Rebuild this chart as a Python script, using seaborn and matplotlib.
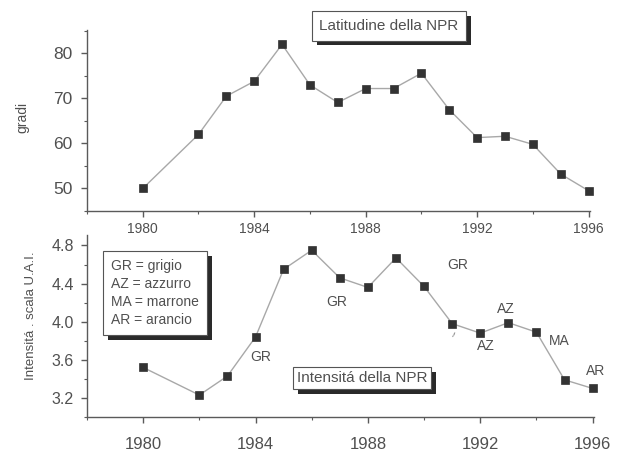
import matplotlib
matplotlib.use("Agg")
import matplotlib.pyplot as plt
import matplotlib.patheffects as pe
from matplotlib.ticker import MultipleLocator, FormatStrFormatter
import seaborn as sns
import pandas as pd

# Yearly observations (1981 missing)
years = [1980, 1982, 1983, 1984, 1985, 1986, 1987, 1988, 1989, 1990,
         1991, 1992, 1993, 1994, 1995, 1996]
latitude = [50.0, 62.0, 70.5, 73.8, 82.0, 73.0, 69.1, 72.2, 72.2, 75.6,
            67.5, 61.3, 61.6, 59.8, 53.2, 49.5]
intensity = [3.52, 3.23, 3.43, 3.84, 4.55, 4.75, 4.46, 4.36, 4.67, 4.37,
             3.98, 3.88, 3.99, 3.89, 3.39, 3.30]

# Colour codes written next to the intensity curve
color_codes = ["GR", "GR", "GR", "AZ", "AZ", "MA", "AR"]
code_x = [1984.2, 1986.9, 1991.2, 1992.2, 1992.9, 1994.8, 1996.1]
code_y = [3.63, 4.21, 4.60, 3.74, 4.13, 3.80, 3.48]
legend_lines = ["GR = grigio", "AZ = azzurro", "MA = marrone", "AR = arancio"]

df_lat = pd.DataFrame({"anno": years, "gradi": latitude})
df_int = pd.DataFrame({"anno": years, "intensita": intensity})

sns.set_style("ticks")
plt.rcParams["font.family"] = ["Liberation Sans", "DejaVu Sans"]

W, H = 628, 451
fig = plt.figure(figsize=(W / 100, H / 100), dpi=100)
fig.patch.set_facecolor("white")

TXT = "#505050"
AXC = "#5a5a5a"
LINE = "#a8a8a8"
MARK = "#333333"


def px_rect(left, top, right, bottom):
    return [left / W, 1 - bottom / H, (right - left) / W, (bottom - top) / H]


def fx(x):
    return x / W


def fy(y):
    return 1 - y / H


ax1 = fig.add_axes(px_rect(87, 30, 590, 211))
ax2 = fig.add_axes(px_rect(87, 235, 594, 417))

for ax, df, col in ((ax1, df_lat, "gradi"), (ax2, df_int, "intensita")):
    sns.lineplot(data=df, x="anno", y=col, ax=ax, color=LINE, lw=1.0,
                 marker="s", markersize=5.2, markerfacecolor=MARK,
                 markeredgecolor=MARK, markeredgewidth=0.5, clip_on=False)
    ax.set_xlabel("")
    ax.set_ylabel("")
    sns.despine(ax=ax)
    for s in ("left", "bottom"):
        ax.spines[s].set_color(AXC)
        ax.spines[s].set_linewidth(1.0)
    ax.set_facecolor("white")
    ax.set_xlim(1978, 1996.05)
    ax.xaxis.set_major_locator(MultipleLocator(4))
    ax.xaxis.set_minor_locator(MultipleLocator(2))
    ax.tick_params(which="major", direction="out", length=4.5, width=1.0,
                   color=AXC, labelcolor=TXT)
    ax.tick_params(which="minor", direction="out", length=2.5, width=0.8,
                   color=AXC)

# upper panel: latitude
ax1.set_ylim(45, 85.2)
ax1.yaxis.set_major_locator(MultipleLocator(10))
ax1.yaxis.set_minor_locator(MultipleLocator(5))
ax1.tick_params(axis="y", labelsize=12.5, pad=6)
ax1.tick_params(axis="x", labelsize=10, pad=3.5)

# lower panel: intensity
ax2.set_ylim(3.0, 4.91)
ax2.yaxis.set_major_locator(MultipleLocator(0.4))
ax2.yaxis.set_minor_locator(MultipleLocator(0.2))
ax2.yaxis.set_major_formatter(FormatStrFormatter("%.1f"))
ax2.tick_params(axis="y", labelsize=11.5, pad=5)
ax2.tick_params(axis="x", labelsize=12, pad=10)

fig.text(fx(22), fy(117), "gradi", rotation=90, ha="center", va="center",
         fontsize=10, color=TXT)
fig.text(fx(31), fy(316), "Intensitá . scala U.A.I.", rotation=90,
         ha="center", va="center", fontsize=9.5, color=TXT)

shadow = [pe.withSimplePatchShadow(offset=(3.5, -3.5), shadow_rgbFace="#2a2a2a",
                                   alpha=1.0)]


def boxed(x, y, s, size, ha="center", va="center", pad=0.35, ls=1.2):
    t = fig.text(fx(x), fy(y), s, ha=ha, va=va, fontsize=size, color=TXT,
                 linespacing=ls,
                 bbox=dict(boxstyle=f"square,pad={pad}", fc="white",
                           ec="#555555", lw=0.8))
    t.get_bbox_patch().set_path_effects(shadow)
    return t


boxed(389, 26, "Latitudine della NPR", 11, pad=0.5)
boxed(362, 378, "Intensitá della NPR", 11, pad=0.25)
boxed(111, 293, "\n".join(legend_lines), 10, ha="left", pad=0.6, ls=1.35)

for lab, x, y in zip(color_codes, code_x, code_y):
    ax2.text(x, y, lab, ha="center", va="center", fontsize=10, color=TXT)
ax2.text(1991.05, 3.85, "/", ha="center", va="center", fontsize=6,
         color=TXT, rotation=-10)

fig.savefig("out.png", dpi=100, facecolor="white")
